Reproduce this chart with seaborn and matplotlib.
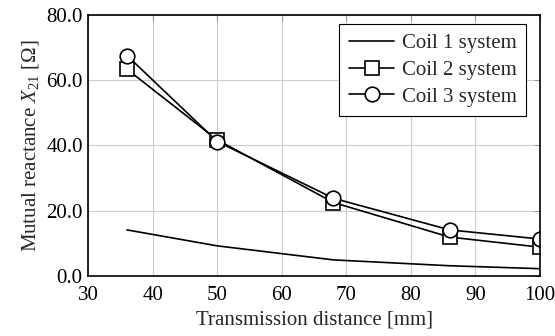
import numpy as np
import pandas as pd
import seaborn as sns
import matplotlib
matplotlib.use('Agg')
import matplotlib.pyplot as plt
from matplotlib.ticker import FormatStrFormatter

# Data
distance = [36, 50, 68, 86, 100]
coil1 = [14.1, 9.2, 4.9, 3.1, 2.2]
coil2 = [63.4, 41.7, 22.5, 11.9, 8.8]
coil3 = [67.6, 41.2, 23.8, 14.1, 11.3]
labels = ['Coil 1 system', 'Coil 2 system', 'Coil 3 system']

sns.set_style('whitegrid')
plt.rcParams['font.family'] = ['Liberation Serif', 'DejaVu Serif']
plt.rcParams['mathtext.fontset'] = 'custom'
plt.rcParams['mathtext.rm'] = 'Liberation Serif'
plt.rcParams['mathtext.it'] = 'Liberation Serif:italic'

fs = 15

fig, ax = plt.subplots(figsize=(5.55, 3.36), dpi=100)

sns.lineplot(x=distance, y=coil1, ax=ax, color='black', linewidth=1.2, label=labels[0])
sns.lineplot(x=distance, y=coil2, ax=ax, color='black', linewidth=1.2, marker='s',
             markersize=10.5, markerfacecolor='white', markeredgecolor='black',
             markeredgewidth=1.2, label=labels[1])
sns.lineplot(x=distance, y=coil3, ax=ax, color='black', linewidth=1.2, marker='o',
             markersize=10.5, markerfacecolor='white', markeredgecolor='black',
             markeredgewidth=1.2, label=labels[2])

ax.set_xlim(30, 100)
ax.set_ylim(0, 80)
ax.set_xticks([30, 40, 50, 60, 70, 80, 90, 100])
ax.set_yticks([0, 20, 40, 60, 80])
ax.yaxis.set_major_formatter(FormatStrFormatter('%.1f'))
ax.grid(True, color='#cccccc', linewidth=0.8)
for s in ax.spines.values():
    s.set_color('black')
    s.set_linewidth(1.2)
ax.tick_params(direction='in', length=4, color='#999999', labelsize=fs,
               top=True, right=True, labelcolor='black')
ax.tick_params(axis='x', pad=7)
ax.tick_params(axis='y', pad=4)

ax.set_xlabel('Transmission distance [mm]', fontsize=fs, labelpad=4)
ax.set_ylabel(r'Mutual reactance $X_{21}$ [$\Omega$]', fontsize=fs, labelpad=4)

leg = ax.legend(loc='upper right', bbox_to_anchor=(0.969, 0.966), borderaxespad=0,
                fontsize=fs, frameon=True, fancybox=False, edgecolor='black',
                framealpha=1, handlelength=2.2, borderpad=0.45,
                labelspacing=0.35, handletextpad=0.35)
leg.get_frame().set_linewidth(0.8)

plt.subplots_adjust(left=0.159, right=0.973, top=0.955, bottom=0.179)
fig.savefig('out.png', dpi=100)
